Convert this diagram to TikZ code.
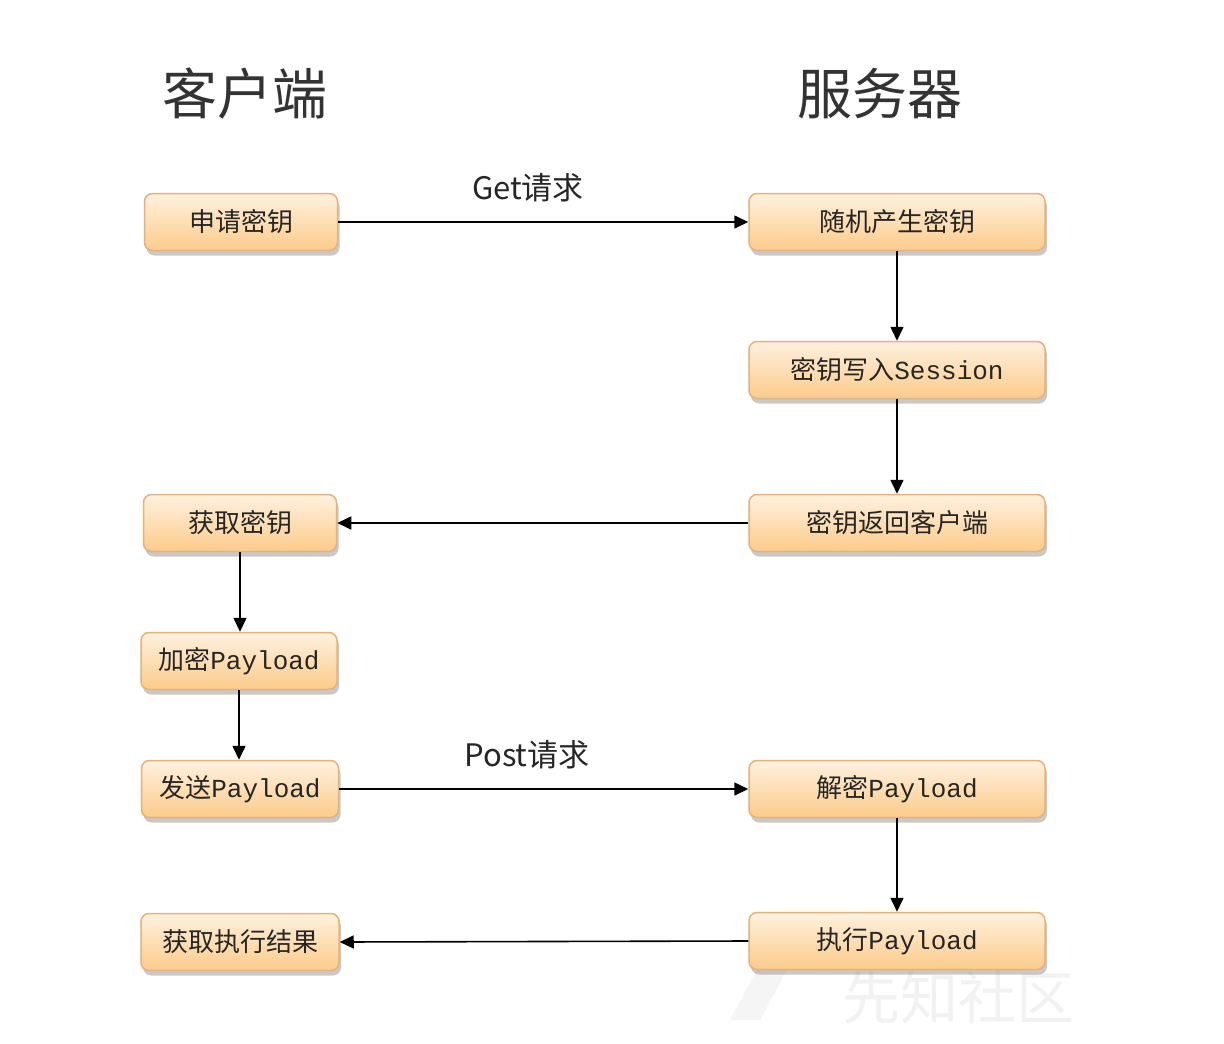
\documentclass[tikz,border=0pt]{standalone}
\usepackage{fontspec}
\setmainfont{Noto Sans CJK SC}
\newfontfamily\cjk{Noto Sans CJK SC}
\newfontfamily\mono{Liberation Mono}
\usetikzlibrary{shadows,arrows.meta}
\definecolor{boxtop}{HTML}{FFF1DF}
\definecolor{boxbot}{HTML}{FCCB8A}
\definecolor{boxline}{HTML}{E6B27A}
\tikzset{
  flowbox/.style={rectangle, rounded corners=8pt, draw=boxline, line width=1.5pt,
    top color=boxtop, bottom color=boxbot, minimum height=57pt, inner sep=2pt,
    font=\fontsize{26}{30}\selectfont\cjk, text=black!85,
    drop shadow={shadow xshift=2pt, shadow yshift=-5pt, opacity=0.35, fill=black!60}},
  leftbox/.style={flowbox, minimum width=193pt},
  rightbox/.style={flowbox, minimum width=296pt},
  flow/.style={line width=1.6pt, -{Triangle[length=14pt,width=13pt]}},
  header/.style={font=\fontsize{55}{64}\selectfont\cjk, text=black!80},
  msg/.style={font=\fontsize{31}{36}\selectfont\cjk, text=black!85}
}
\begin{document}
\begin{tikzpicture}[x=1pt,y=-1pt]
\useasboundingbox (0,0) rectangle (1224,1044);
\fill[white] (0,0) rectangle (1224,1044);
% watermark
\node[font=\fontsize{58}{62}\selectfont\cjk, text=black!5] (wm) at (958,998) {先知社区};
\fill[black!4] (730,1020) -- (765,955) -- (795,955) -- (760,1020) -- cycle;
% headers
\node[header] (hc) at (245,94) {客户端};
\node[header] (hs) at (880,94) {服务器};
% boxes
\node[leftbox] (a1) at (241,222) {申请密钥};
\node[rightbox] (b1) at (897,222) {随机产生密钥};
\node[rightbox] (b2) at (897,370) {密钥写入{\mono Session}};
\node[rightbox] (b3) at (897,523) {密钥返回客户端};
\node[leftbox] (a2) at (240,523) {获取密钥};
\node[leftbox, minimum width=196pt] (a3) at (239,661) {加密{\mono Payload}};
\node[leftbox, minimum width=197pt] (a4) at (240,789) {发送{\mono Payload}};
\node[rightbox] (b4) at (897,789) {解密{\mono Payload}};
\node[rightbox] (b5) at (897,941) {执行{\mono Payload}};
\node[leftbox, minimum width=198pt] (a5) at (240,942) {获取执行结果};
% labels
\node[msg] (lg) at (528,188) {Get请求};
\node[msg] (lp) at (527,755) {Post请求};
% connectors
\draw[flow] (a1.east) -- (b1.west);
\draw[flow] (b1.south) -- (b2.north);
\draw[flow] (b2.south) -- (b3.north);
\draw[flow] (b3.west) -- (a2.east);
\draw[flow] (a2.south) -- (a2.south |- a3.north);
\draw[flow] (a3.south) -- (a3.south |- a4.north);
\draw[flow] (a4.east) -- (b4.west);
\draw[flow] (b4.south) -- (b5.north);
\draw[flow] (b5.west) -- (a5.east);
\end{tikzpicture}
\end{document}
